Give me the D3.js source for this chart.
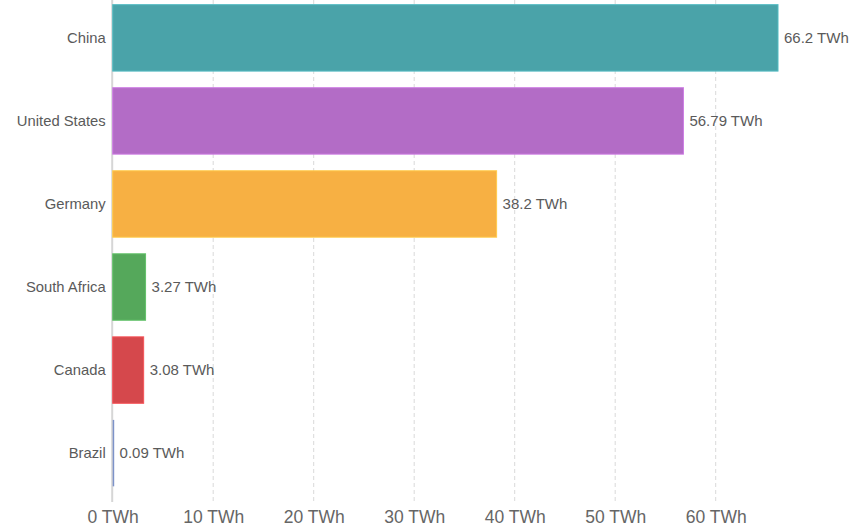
<!DOCTYPE html>
<html><head><meta charset="utf-8">
<script src="https://cdn.jsdelivr.net/npm/d3@7"></script>
<style>body{margin:0;background:#fff;font-family:"Liberation Sans",Arial,sans-serif;}</style>
</head><body><svg id="c" width="852" height="532"></svg>
<script>
const categories = ["China","United States","Germany","South Africa","Canada","Brazil"];
const values = [66.2, 56.79, 38.2, 3.27, 3.08, 0.09];
const colors = ["#4aa3a9","#b36cc6","#f7b043","#55a85b","#d5484c","#7d93c9"];
const tickValues = [0,10,20,30,40,50,60];

const svg = d3.select("#c");
const x = d3.scaleLinear().domain([0,60]).range([112.7,715.7]);
const y = d3.scaleBand().domain(categories).range([0.5,490.5]).paddingInner(0.2).paddingOuter(0.05);
const gridBottom = 502;

// gridlines
svg.append("g").selectAll("line").data(tickValues.slice(1)).join("line")
  .attr("x1",d=>x(d)).attr("x2",d=>x(d)).attr("y1",0).attr("y2",gridBottom)
  .attr("stroke","#d9d9d9").attr("stroke-width",1).attr("stroke-dasharray","4,3");

// y axis line
svg.append("line").attr("x1",x(0)-0.5).attr("x2",x(0)-0.5).attr("y1",0).attr("y2",gridBottom)
  .attr("stroke","#d6d6d6").attr("stroke-width",2);

// x axis labels
const xAxis = d3.axisBottom(x).tickValues(tickValues).tickSize(0).tickFormat(d=>d+" TWh");
const gx = svg.append("g").attr("transform",`translate(0,${gridBottom+4})`).call(xAxis);
gx.select(".domain").remove();
gx.selectAll("text").attr("fill","#666").style("font-size","17.5px").style("font-family","'Liberation Sans',Arial,sans-serif").attr("dy","0.8em");

// bars
svg.append("g").selectAll("rect").data(categories).join("rect")
  .attr("x",x(0)).attr("y",d=>y(d)).attr("width",(d,i)=>Math.max(1.5,x(values[i])-x(0)))
  .attr("height",y.bandwidth()).attr("fill",(d,i)=>colors[i])
  .attr("stroke",(d,i)=>values[i] < 1 ? "none" : d3.color(colors[i]).brighter(0.4)).attr("stroke-width",1);

// category labels
const yAxis = d3.axisLeft(y).tickSize(0).tickPadding(6);
const gy = svg.append("g").attr("transform",`translate(${x(0)-1},0)`).call(yAxis);
gy.select(".domain").remove();
gy.selectAll("text").attr("fill","#5a5a5a").style("font-size","14.8px").style("font-family","'Liberation Sans',Arial,sans-serif");

// value labels
svg.append("g").selectAll("text").data(categories).join("text")
  .attr("x",(d,i)=>x(values[i])+6).attr("y",d=>y(d)+y.bandwidth()/2).attr("dy","0.35em")
  .attr("fill","#5a5a5a").style("font-size","15px")
  .text((d,i)=>values[i]+" TWh");
</script></body></html>
